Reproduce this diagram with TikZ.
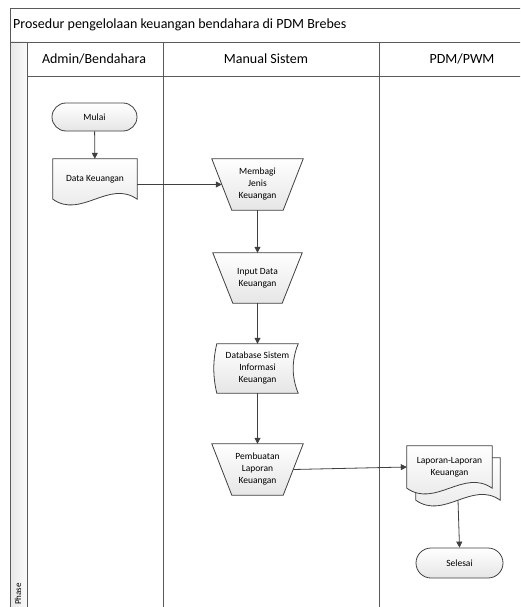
\documentclass[tikz,border=0pt]{standalone}
\usepackage{fontspec}
\setmainfont{Carlito}
\usetikzlibrary{arrows.meta,calc,backgrounds}
\definecolor{ln}{HTML}{404040}
\definecolor{fr}{HTML}{5A5A5A}
\newcommand\docpath[2]{(#1.north west) -- (#1.north east) -- (#1.south east) .. controls ($(#1.south east)!0.3333!(#1.south west)+(0,-#2)$) and ($(#1.south east)!0.6667!(#1.south west)+(0,#2)$) .. (#1.south west) -- cycle}
\newcommand\manpath[2]{([xshift=-#2pt]#1.north west) -- ([xshift=#2pt]#1.north east) -- ([xshift=-#2pt]#1.south east) -- ([xshift=#2pt]#1.south west) -- cycle}
\begin{document}
\begin{tikzpicture}[x=1pt,y=-1pt,
  shp/.style={draw=ln, line width=0.8pt, top color=white, bottom color=black!10},
  txt/.style={align=center, font=\fontsize{9.5}{12}\selectfont, inner sep=0pt},
  flow/.style={draw=ln, line width=0.8pt, -{Triangle[length=6pt,width=6pt]}},
  frame/.style={draw=fr, line width=0.8pt},
  hdr/.style={font=\fontsize{14}{16}\selectfont, inner sep=0pt}]
\useasboundingbox (0,0) rectangle (520,607);
\clip (0,0) rectangle (520,607);
% frame
\fill[left color=black!9, right color=black!2] (10,42) rectangle (27,620);
\draw[frame] (10,8) rectangle (530,620);
\draw[frame] (10,42) -- (530,42);
\draw[frame] (27,76) -- (530,76);
\draw[frame] (27,42) -- (27,620);
\draw[frame] (163,42) -- (163,620);
\draw[frame] (379,42) -- (379,620);
\node[hdr, anchor=west] (title) at (13,25) {Prosedur pengelolaan keuangan bendahara di PDM Brebes};
\node[hdr] (hA) at (94,59) {Admin/Bendahara};
\node[hdr] (hM) at (266,59) {Manual Sistem};
\node[hdr] (hP) at (462,59) {PDM/PWM};
\node[font=\fontsize{9}{10}\selectfont, rotate=90, anchor=east, inner sep=0pt] (phase) at (18,583) {Phase};
% nodes
\node[shp, txt, rounded corners=14pt, minimum width=85pt, minimum height=28pt] (mulai) at (94.5,117) {Mulai};
\node[txt, minimum width=84pt, minimum height=40pt] (dk) at (95,179) {Data Keuangan};
\node[txt, minimum width=71pt, minimum height=51pt] (mem) at (257.5,184.5) {Membagi\\Jenis\\Keuangan};
\node[txt, minimum width=69pt, minimum height=50pt] (inp) at (257.5,278) {Input Data\\Keuangan};
\node[txt, minimum width=81pt, minimum height=49pt] (db) at (257.5,368.5) {Database Sistem\\Informasi\\Keuangan};
\node[txt, minimum width=71pt, minimum height=51pt] (pem) at (257.5,469.5) {Pembuatan\\Laporan\\Keuangan};
\node[minimum width=84pt, minimum height=42pt, inner sep=0pt] (lapb) at (458,479) {};
\node[txt, minimum width=85pt, minimum height=42pt] (lap) at (449.5,467) {Laporan-Laporan\\Keuangan};
\node[shp, txt, rounded corners=15pt, minimum width=87pt, minimum height=30pt] (sel) at (459.5,563) {Selesai};
\begin{scope}[on background layer]
  \fill[white] (0,0) rectangle (520,607);
  \path[shp] \docpath{dk}{20};
  \path[shp] \manpath{mem}{10};
  \path[shp] \manpath{inp}{10};
  \path[shp] \manpath{pem}{10};
  \path[shp] (db.north west) -- (db.north east)
     .. controls ($(db.north east)+(-6.7,16.3)$) and ($(db.south east)+(-6.7,-16.3)$) .. (db.south east)
     -- (db.south west)
     .. controls ($(db.south west)+(-4,-16.3)$) and ($(db.north west)+(-4,16.3)$) .. (db.north west) -- cycle;
  \path[shp] \docpath{lapb}{20};
  \path[shp] \docpath{lap}{20};
\end{scope}
% connectors
\draw[flow] (mulai) -- (dk);
\draw[flow] (dk.east |- mem.west) -- (mem.west);
\draw[flow] (mem.south) -- (inp.north);
\draw[flow] (inp.south) -- (db.north);
\draw[flow] (db.south) -- (pem.north);
\draw[flow] (pem.east) -- (lap.west);
\draw[flow] (lapb.south) -- (sel.north);
\end{tikzpicture}
\end{document}
